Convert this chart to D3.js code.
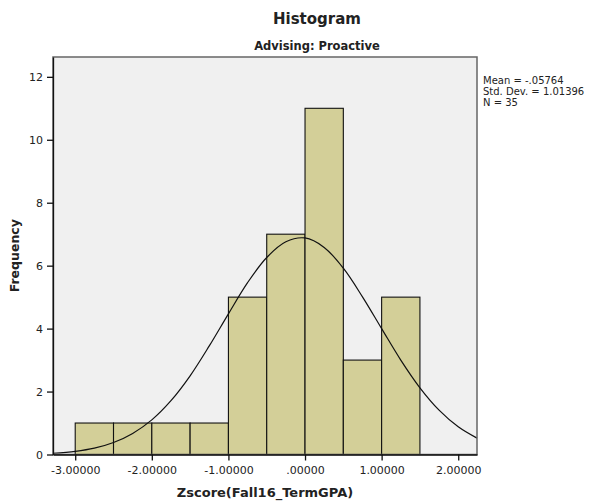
<!DOCTYPE html>
<html>
<head>
<meta charset="utf-8">
<script src="https://cdn.jsdelivr.net/npm/d3@7"></script>
<style>
  body { margin: 0; background: #fff; }
  svg text { font-family: "DejaVu Sans", sans-serif; fill: #222; }
</style>
</head>
<body>
<div id="chart"></div>
<script>
"use strict";

// Histogram bins (lower edge, upper edge) and counts
var binStarts = [-3.0, -2.5, -2.0, -1.5, -1.0, -0.5, 0.0, 0.5, 1.0];
var binEnds   = [-2.5, -2.0, -1.5, -1.0, -0.5, 0.0, 0.5, 1.0, 1.5];
var counts    = [1, 1, 1, 1, 5, 7, 11, 3, 5];

// Normal curve
var curveX = [-3.29, -3.0, -2.75, -2.5, -2.25, -2.0, -1.75, -1.5, -1.25, -1.0, -0.75, -0.5, -0.25,
              0.0, 0.25, 0.5, 0.75, 1.0, 1.25, 1.5, 1.75, 2.0, 2.245];
var curveY = [0.04, 0.10, 0.20, 0.38, 0.67, 1.10, 1.71, 2.50, 3.45, 4.47, 5.46, 6.26, 6.76,
              6.88, 6.58, 5.92, 5.01, 4.00, 3.00, 2.12, 1.41, 0.88, 0.52];

var xTicks = [-3, -2, -1, 0, 1, 2];
var xTickLabels = ["-3.00000", "-2.00000", "-1.00000", ".00000", "1.00000", "2.00000"];
var yTicks = [0, 2, 4, 6, 8, 10, 12];

var statsLines = ["Mean = -.05764", "Std. Dev. = 1.01396", "N = 35"];

var W = 597, H = 503;
var plot = { left: 53, right: 477, top: 57, bottom: 454.5 };

var svg = d3.select("#chart").append("svg")
    .attr("width", W)
    .attr("height", H);

var xScale = d3.scaleLinear().domain([-3.29, 2.245]).range([plot.left, plot.right]);
var yScale = d3.scaleLinear().domain([0, 12.63]).range([plot.bottom, plot.top]);

// plot background
svg.append("rect")
    .attr("x", plot.left)
    .attr("y", plot.top)
    .attr("width", plot.right - plot.left)
    .attr("height", plot.bottom - plot.top)
    .attr("fill", "#f0f0f0");

// bars
svg.append("g").selectAll("rect")
    .data(counts)
    .enter().append("rect")
    .attr("x", function (d, i) { return xScale(binStarts[i]); })
    .attr("y", function (d) { return yScale(d); })
    .attr("width", function (d, i) { return xScale(binEnds[i]) - xScale(binStarts[i]); })
    .attr("height", function (d) { return yScale(0) - yScale(d); })
    .attr("fill", "#d3cf98")
    .attr("stroke", "#111")
    .attr("stroke-width", 1.1);

// normal curve
var line = d3.line()
    .x(function (d, i) { return xScale(curveX[i]); })
    .y(function (d) { return yScale(d); })
    .curve(d3.curveCatmullRom);

svg.append("path")
    .datum(curveY)
    .attr("d", line)
    .attr("fill", "none")
    .attr("stroke", "#111")
    .attr("stroke-width", 1.2);

// frame
svg.append("rect")
    .attr("x", plot.left)
    .attr("y", plot.top)
    .attr("width", plot.right - plot.left)
    .attr("height", plot.bottom - plot.top)
    .attr("fill", "none")
    .attr("stroke", "#666")
    .attr("stroke-width", 1.5);

// axes
var xAxis = d3.axisBottom(xScale)
    .tickValues(xTicks)
    .tickFormat(function (d, i) { return xTickLabels[i]; })
    .tickSize(6)
    .tickSizeOuter(0);

var yAxis = d3.axisLeft(yScale)
    .tickValues(yTicks)
    .tickSize(6)
    .tickSizeOuter(0);

var gx = svg.append("g")
    .attr("transform", "translate(0," + plot.bottom + ")")
    .call(xAxis);

var gy = svg.append("g")
    .attr("transform", "translate(" + plot.left + ",0)")
    .call(yAxis);

[gx, gy].forEach(function (g) {
    g.select(".domain").attr("stroke", "#111").attr("stroke-width", 1.3);
    g.selectAll(".tick line").attr("stroke", "#111").attr("stroke-width", 1.3);
    g.selectAll(".tick text")
        .attr("font-family", "DejaVu Sans, sans-serif")
        .attr("font-size", "11px")
        .attr("fill", "#222");
});
gx.selectAll(".tick text").attr("dy", "0.95em");
gy.selectAll(".tick text").attr("dx", "-1px");

// titles
svg.append("text")
    .attr("x", 317)
    .attr("y", 24)
    .attr("text-anchor", "middle")
    .attr("font-size", "15px")
    .attr("font-weight", "bold")
    .text("Histogram");

svg.append("text")
    .attr("x", 317)
    .attr("y", 50)
    .attr("text-anchor", "middle")
    .attr("font-size", "11.5px")
    .attr("font-weight", "bold")
    .text("Advising: Proactive");

// axis labels
svg.append("text")
    .attr("transform", "translate(19," + ((plot.top + plot.bottom) / 2) + ")rotate(-90)")
    .attr("text-anchor", "middle")
    .attr("font-size", "12.5px")
    .attr("font-weight", "bold")
    .text("Frequency");

svg.append("text")
    .attr("x", (plot.left + plot.right) / 2)
    .attr("y", 497)
    .attr("text-anchor", "middle")
    .attr("font-size", "13px")
    .attr("font-weight", "bold")
    .text("Zscore(Fall16_TermGPA)");

// stats legend
svg.append("g").selectAll("text")
    .data(statsLines)
    .enter().append("text")
    .attr("x", 483)
    .attr("y", function (d, i) { return 84 + i * 11; })
    .attr("font-size", "10px")
    .text(function (d) { return d; });
</script>
</body>
</html>
